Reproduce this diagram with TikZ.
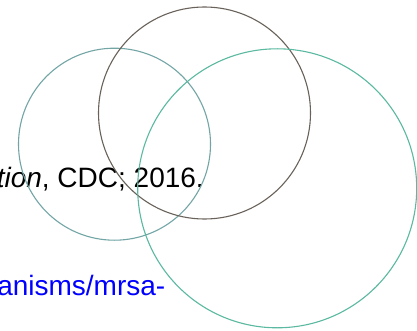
\documentclass[tikz,border=0pt]{standalone}
\usepackage{fontspec}
\setmainfont{Liberation Sans}
\begin{document}
\begin{tikzpicture}[x=1pt,y=-1pt,
  ring/.style={circle,draw,line width=1.1pt,inner sep=0pt},
  ref/.style={inner sep=0pt,font=\fontsize{28}{32}\selectfont}]
\useasboundingbox (0,0) rectangle (417,331);
\clip (0,0) rectangle (417,331);
\fill[white] (0,0) rectangle (417,331);
% citation fragments
\node[ref,anchor=base east] (cite) at (204,187) {\textit{tion}, CDC; 2016.};
\node[ref,anchor=base east,text={rgb,255:red,0;green,0;blue,255}] (url) at (165.5,295) {anisms/mrsa-};
% overlapping rings
\node[ring,draw={rgb,255:red,115;green,165;blue,165},minimum size=192pt] (left) at (114.5,144.2) {};
\node[ring,draw={rgb,255:red,105;green,98;blue,90},minimum size=212pt] (mid) at (204.5,113) {};
\node[ring,draw={rgb,255:red,90;green,185;blue,160},minimum size=279pt] (right) at (277.2,188.3) {};
\end{tikzpicture}
\end{document}
